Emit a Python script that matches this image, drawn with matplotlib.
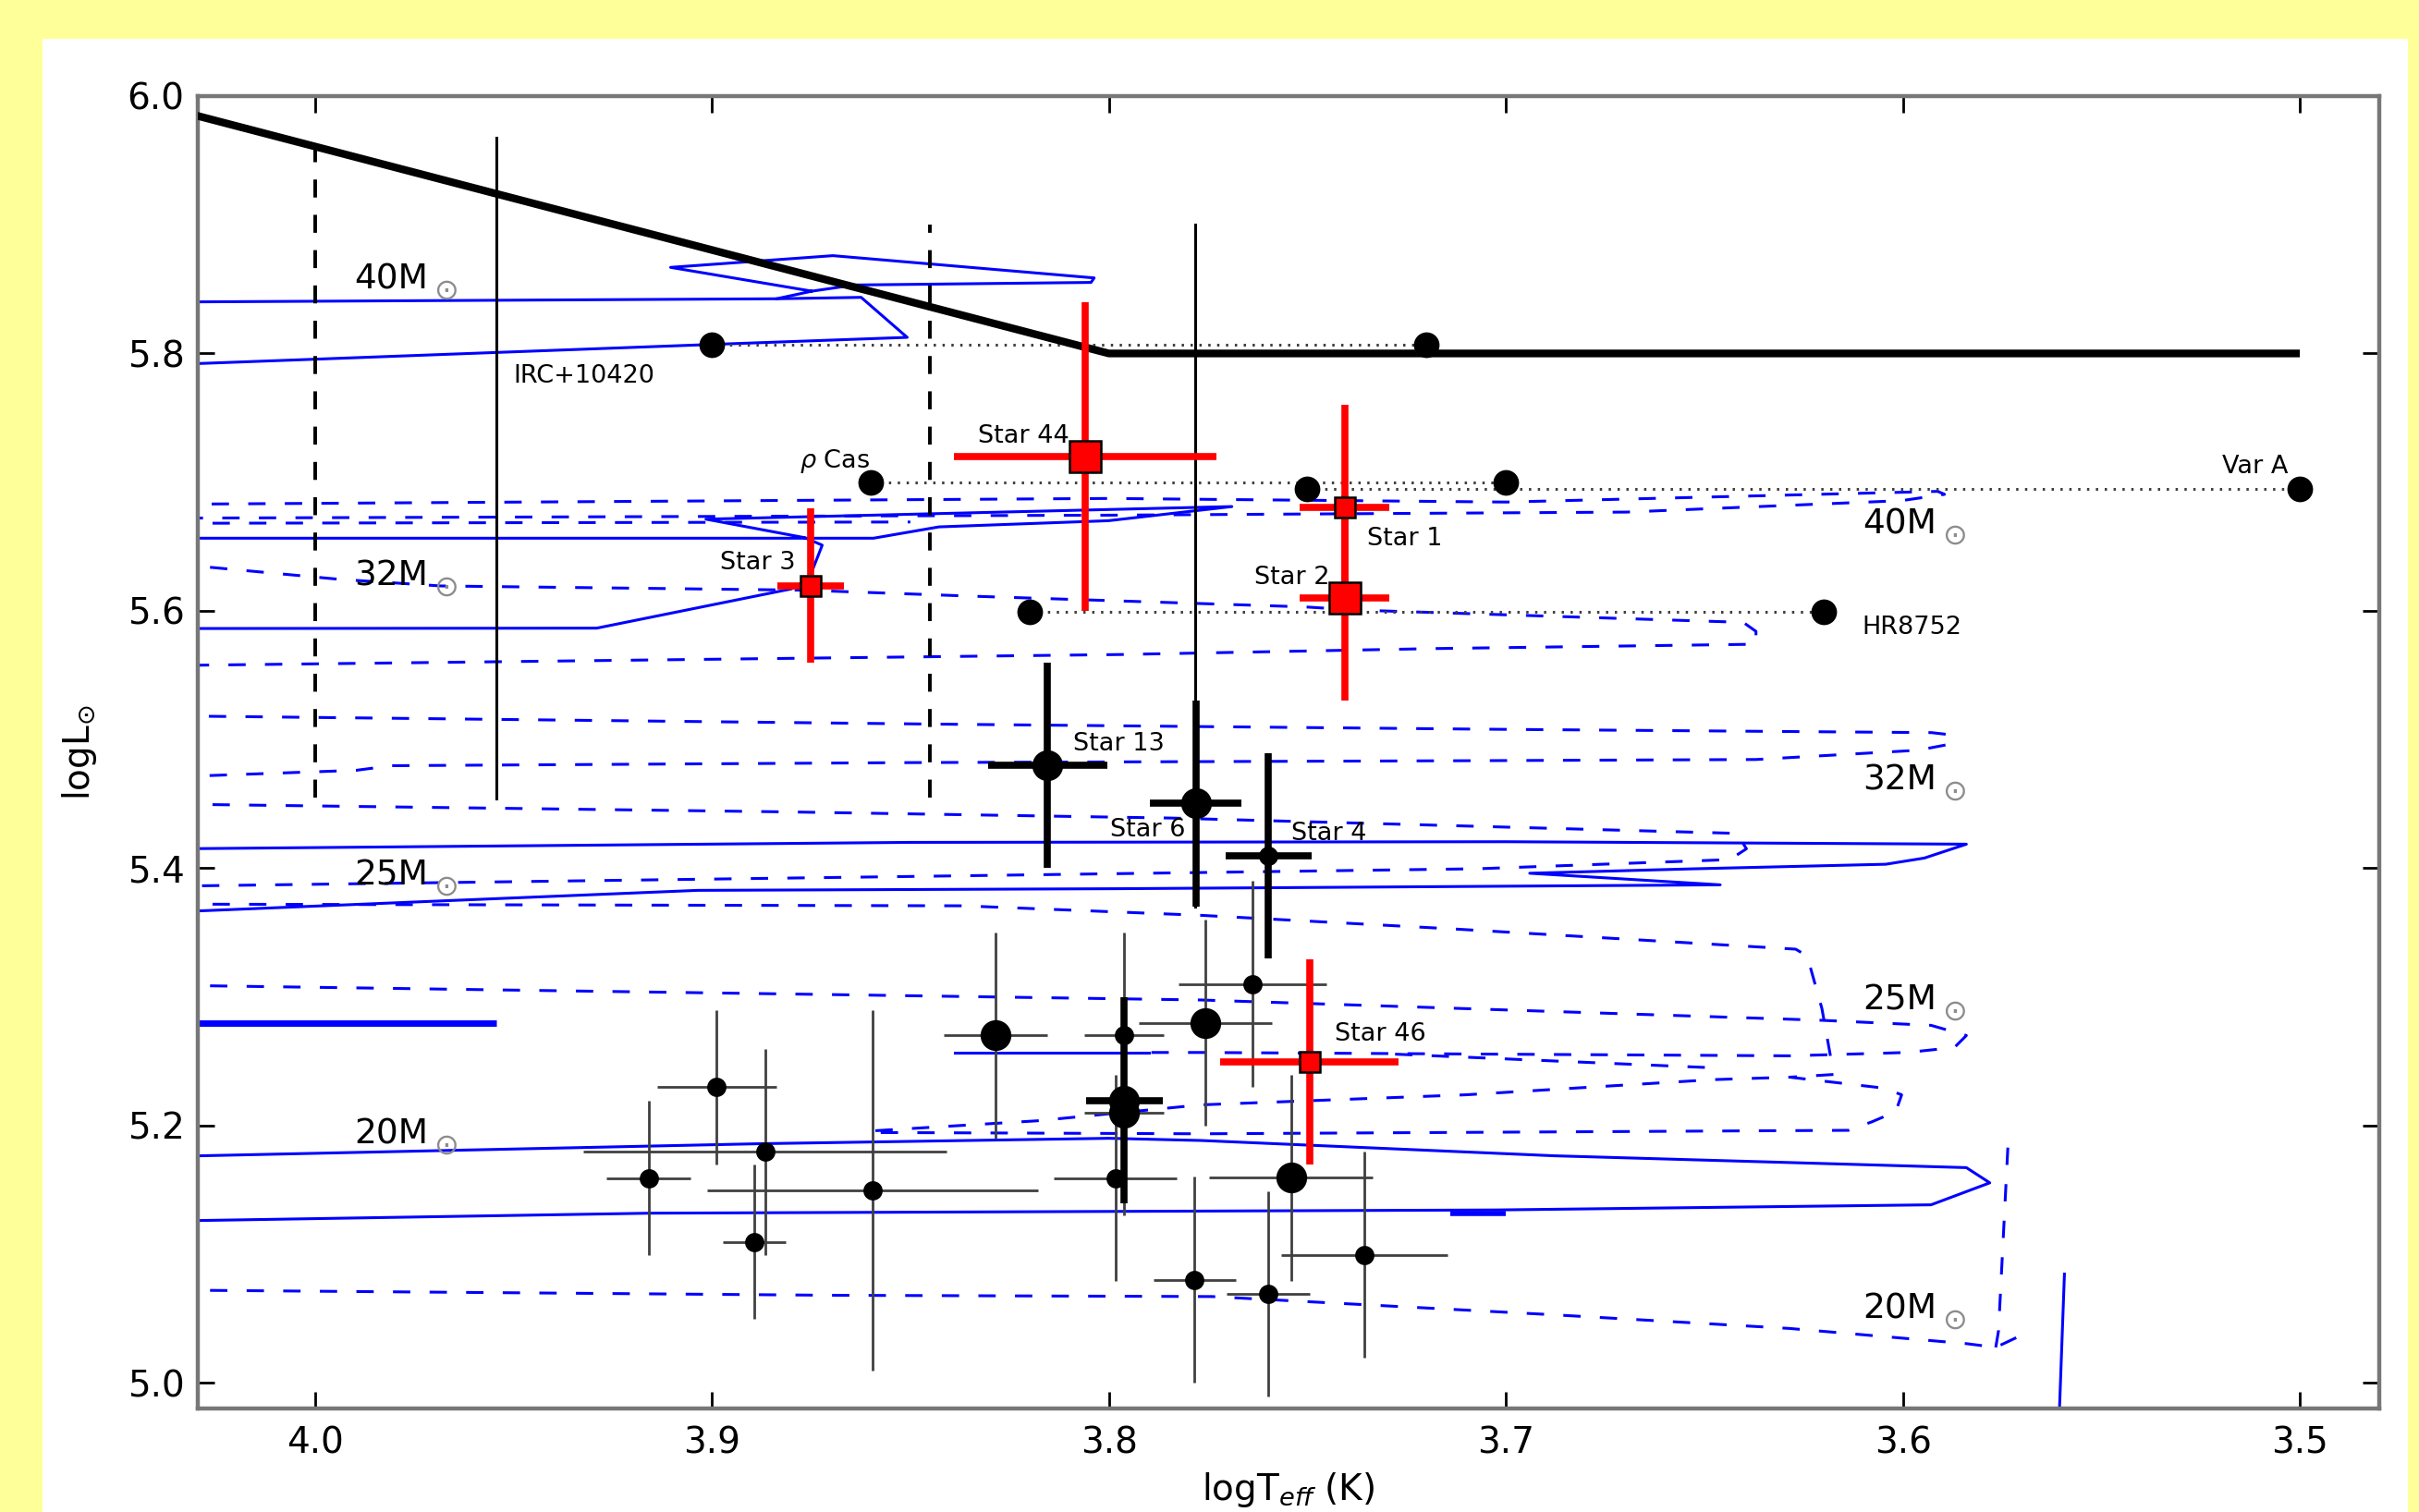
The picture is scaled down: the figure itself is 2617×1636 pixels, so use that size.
import matplotlib
matplotlib.use("Agg")
import matplotlib.pyplot as plt
from matplotlib.patches import Rectangle

plt.rcParams['font.family'] = ['DejaVu Sans']
plt.rcParams['mathtext.fontset'] = 'dejavusans'
plt.rcParams['lines.scale_dashes'] = False

# ---------------- data ----------------
# Humphreys-Davidson limit
hd_logT = [4.03, 3.80, 3.50]
hd_logL = [5.985, 5.80, 5.80]

# vertical reference lines
dashv_logT = [4.000, 3.845]
dashv_top = [5.966, 5.900]
dashv_bot = [5.455, 5.455]
solidv_logT = [3.9543, 3.7783]
solidv_top = [5.968, 5.900]
solidv_bot = [5.454, 5.370]

# solid evolutionary tracks
t40_T = [4.035, 3.90, 3.8508, 3.8624, 3.8837, 4.035]
t40_L = [5.7915, 5.807, 5.8125, 5.8436, 5.8425, 5.840]
t40loop_T = [3.8837, 3.8748, 3.9104, 3.8695, 3.8037, 3.8045, 3.8641, 3.8748]
t40loop_L = [5.8425, 5.8484, 5.8669, 5.876, 5.8587, 5.8552, 5.8532, 5.8484]
t32_T = [4.035, 3.929, 3.880, 3.8755, 3.8722, 3.8766, 3.9015, 3.769, 3.8001, 3.8428, 3.8593, 4.035]
t32_L = [5.5862, 5.5865, 5.617, 5.625, 5.651, 5.6568, 5.6712, 5.681, 5.670, 5.6652, 5.6564, 5.6564]
t25_T = [4.035, 3.9036, 3.797, 3.646, 3.694, 3.6533, 3.6043, 3.5946, 3.584, 3.70, 3.85, 4.035]
t25_L = [5.366, 5.3827, 5.384, 5.387, 5.396, 5.3994, 5.403, 5.4078, 5.4186, 5.4205, 5.420, 5.415]
t20_T = [4.035, 3.8877, 3.80, 3.7768, 3.6878, 3.584, 3.5781, 3.5929, 3.7027, 3.9154, 4.035]
t20_L = [5.176, 5.1858, 5.19, 5.1883, 5.1764, 5.1672, 5.1554, 5.1383, 5.1343, 5.1318, 5.1258]
thick_seg_T = [4.035, 3.9543]
thick_seg_L = [5.2798, 5.2798]
thick_seg2_T = [3.714, 3.700]
thick_seg2_L = [5.1317, 5.1317]
vert_T = [3.5593, 3.5606]
vert_L = [5.0845, 4.975]
solid_stub_T = [3.8387, 3.79]
solid_stub_L = [5.2567, 5.2567]

# dashed evolutionary tracks
d40a_T = [4.026, 3.80, 3.70, 3.5912, 3.5895, 3.6003, 3.6696, 3.80, 4.035]
d40a_L = [5.683, 5.6873, 5.6845, 5.6928, 5.6905, 5.6856, 5.6767, 5.6743, 5.672]
d40b_T = [4.035, 3.85]
d40b_L = [5.668, 5.669]
d32a_T = [4.0264, 3.994, 3.9683, 3.8766, 3.834, 3.7506, 3.7381, 3.6402, 3.637, 3.637, 3.7185, 3.797, 4.035]
d32a_L = [5.6338, 5.6245, 5.6193, 5.616, 5.6113, 5.603, 5.6006, 5.591, 5.584, 5.574, 5.5706, 5.566, 5.5575]
d32b_T = [4.0267, 3.8466, 3.707, 3.5928, 3.588, 3.588, 3.5962, 3.637, 3.707, 3.85, 3.9807, 3.9896, 4.035]
d32b_L = [5.518, 5.512, 5.508, 5.5053, 5.5036, 5.4964, 5.4916, 5.4844, 5.4835, 5.482, 5.4796, 5.476, 5.471]
d25f_T = [4.035, 3.8813, 3.7843, 3.6418, 3.6394, 3.6436, 3.707, 3.85, 4.035]
d25f_L = [5.4497, 5.4437, 5.4389, 5.427, 5.415, 5.4066, 5.3995, 5.3935, 5.386]
d25a_T = [4.035, 3.8368, 3.7768, 3.7131, 3.627, 3.6241, 3.6204, 3.6174, 3.6285]
d25a_L = [5.372, 5.3707, 5.3633, 5.3527, 5.337, 5.3317, 5.291, 5.2396, 5.2375]
d25b_T = [4.0264, 3.87, 3.7768, 3.6211, 3.5929, 3.584, 3.587, 3.5989, 3.6285, 3.7768, 3.79]
d25b_L = [5.3085, 5.3017, 5.2975, 5.2818, 5.2778, 5.2699, 5.2606, 5.2567, 5.2541, 5.2567, 5.2567]
d25c_T = [3.7279, 3.6493, 3.6495]
d25c_L = [5.2554, 5.245, 5.240]
d25d_T = [3.8588, 3.818, 3.7768, 3.7101, 3.6478, 3.6285, 3.6048, 3.6003, 3.6018, 3.6078, 3.6137, 3.7768, 3.8588]
d25d_L = [5.1959, 5.2036, 5.216, 5.2238, 5.2356, 5.2375, 5.229, 5.2238, 5.2107, 5.2028, 5.1962, 5.1935, 5.1945]
d20_T = [4.0264, 3.87, 3.774, 3.6878, 3.6285, 3.584, 3.5766, 3.5692]
d20_L = [5.0718, 5.068, 5.067, 5.0528, 5.0422, 5.0304, 5.0275, 5.0383]
d20v_T = [3.5766, 3.5759, 3.5735]
d20v_L = [5.0275, 5.0404, 5.186]

# yellow hypergiants (connected epochs)
irc_T = [3.90, 3.72]
irc_L = [5.807, 5.807]
rhocas_T = [3.86, 3.70]
rhocas_L = [5.700, 5.700]
vara_T = [3.75, 3.50]
vara_L = [5.695, 5.695]
hr_T = [3.82, 3.62]
hr_L = [5.599, 5.599]

# red stars (this work)
red_names = ['Star 44', 'Star 1', 'Star 2', 'Star 3', 'Star 46']
red_T = [3.806, 3.7406, 3.7406, 3.8751, 3.7495]
red_L = [5.720, 5.680, 5.610, 5.6195, 5.2493]
red_Terr = [0.033, 0.0113, 0.0113, 0.0084, 0.0225]
red_Lerr = [0.12, 0.08, 0.08, 0.06, 0.08]
red_big = [True, False, True, False, False]

# black stars, thick error bars
bk_names = ['Star 13', 'Star 6', 'Star 4', '']
bk_T = [3.8154, 3.7781, 3.7598, 3.7961]
bk_L = [5.480, 5.4502, 5.4095, 5.2194]
bk_Terr = [0.015, 0.0115, 0.0108, 0.0097]
bk_Lerr = [0.08, 0.08, 0.08, 0.08]
bk_big = [True, True, False, True]

# other supergiants, thin error bars
gs_T = [3.9159, 3.8988, 3.8866, 3.8893, 3.8595, 3.8285, 3.7961, 3.7961, 3.7983, 3.7757, 3.7639, 3.7541, 3.7356, 3.7598, 3.7784]
gs_L = [5.159, 5.2298, 5.1794, 5.1095, 5.1494, 5.2699, 5.2702, 5.2098, 5.159, 5.2797, 5.3099, 5.1593, 5.0994, 5.0691, 5.080]
gs_Terr = [0.0106, 0.015, 0.0457, 0.008, 0.0417, 0.013, 0.01, 0.01, 0.0155, 0.0168, 0.0186, 0.0206, 0.021, 0.0105, 0.0103]
gs_Lerr = [0.06, 0.06, 0.08, 0.06, 0.14, 0.08, 0.08, 0.08, 0.08, 0.08, 0.08, 0.08, 0.08, 0.08, 0.08]
gs_big = [False, False, False, False, False, True, False, True, False, True, False, True, False, False, False]

# labels
mass_labels = ['40', '32', '25', '20']
mass_left_L = [5.850, 5.620, 5.387, 5.186]
mass_right_L = [5.660, 5.4612, 5.290, 5.050]

xticks = [4.0, 3.9, 3.8, 3.7, 3.6, 3.5]
yticks = [5.0, 5.2, 5.4, 5.6, 5.8, 6.0]

# ---------------- figure ----------------
W, H = 2617, 1636
fig = plt.figure(figsize=(W / 100, H / 100), dpi=100, facecolor='#ffff99')
fig.patches.append(Rectangle((46 / W, 0), (2605 - 46) / W, 1 - 41.5 / H,
                             transform=fig.transFigure, facecolor='white',
                             edgecolor='none', zorder=-10))
ax = fig.add_axes([213.5 / W, (H - 1524) / H, (2574 - 213.5) / W, (1524 - 104) / H])
ax.set_zorder(1)

BLUE = '#0000ff'
TRK_LW = 2.2
DASH = (0, (13.5, 15))

for T, L in [(t40_T, t40_L), (t40loop_T, t40loop_L), (t32_T, t32_L),
             (t25_T, t25_L), (t20_T, t20_L), (vert_T, vert_L), (solid_stub_T, solid_stub_L)]:
    ax.plot(T, L, color=BLUE, lw=TRK_LW, zorder=2)
ax.plot(thick_seg_T, thick_seg_L, color=BLUE, lw=5, zorder=2, solid_capstyle='butt')
ax.plot(thick_seg2_T, thick_seg2_L, color=BLUE, lw=4, zorder=2, solid_capstyle='butt')

for T, L in [(d40a_T, d40a_L), (d40b_T, d40b_L), (d32a_T, d32a_L), (d32b_T, d32b_L),
             (d25f_T, d25f_L), (d25a_T, d25a_L), (d25b_T, d25b_L), (d25c_T, d25c_L),
             (d25d_T, d25d_L), (d20_T, d20_L), (d20v_T, d20v_L)]:
    ax.plot(T, L, color=BLUE, lw=TRK_LW, ls=DASH, zorder=2)

# reference lines
for x, t, b in zip(dashv_logT, dashv_top, dashv_bot):
    ax.plot([x, x], [b, t], color='k', lw=2.8, ls=(0, (14, 13.5)), zorder=3)
for x, t, b in zip(solidv_logT, solidv_top, solidv_bot):
    ax.plot([x, x], [b, t], color='k', lw=2.2, zorder=3)

ax.plot(hd_logT, hd_logL, color='k', lw=6, zorder=4, solid_capstyle='butt')

# yellow hypergiants
for T, L in [(irc_T, irc_L), (rhocas_T, rhocas_L), (vara_T, vara_L), (hr_T, hr_L)]:
    ax.plot(T, L, color='0.25', lw=2.2, ls=(0, (1.8, 5.1)), zorder=3)
    ax.plot(T, L, 'o', color='k', ms=20, mew=0, zorder=5)

# thin black points
for T, L, xe, ye, big in zip(gs_T, gs_L, gs_Terr, gs_Lerr, gs_big):
    ax.errorbar(T, L, xerr=xe, yerr=ye, fmt='o', color='k', ms=24 if big else 15,
                mew=0, ecolor='0.25', elinewidth=2.0, capsize=0, zorder=5)

# thick black points
for T, L, xe, ye, big in zip(bk_T, bk_L, bk_Terr, bk_Lerr, bk_big):
    ax.errorbar(T, L, xerr=xe, yerr=ye, fmt='o', color='k', ms=24 if big else 15,
                mew=0, ecolor='k', elinewidth=5.5, capsize=0, zorder=6)

# red stars
for T, L, xe, ye, big in zip(red_T, red_L, red_Terr, red_Lerr, red_big):
    ax.errorbar(T, L, xerr=xe, yerr=ye, fmt='s', mfc='red', mec='k', mew=1.8,
                ms=24 if big else 16, ecolor='red', elinewidth=5.5, capsize=0, zorder=7)

# text labels
FS_SMALL = 19.5
ax.text(3.950, 5.782, 'IRC+10420', fontsize=FS_SMALL, ha='left', va='center', zorder=8)
ax.text(3.878, 5.7112, r'$\rho$ Cas', fontsize=FS_SMALL, ha='left', va='baseline', zorder=8)
ax.text(3.5196, 5.712, 'Var A', fontsize=FS_SMALL, ha='left', va='center', zorder=8)
ax.text(3.6103, 5.587, 'HR8752', fontsize=FS_SMALL, ha='left', va='center', zorder=8)
name_pos = {'Star 44': (3.833, 5.736), 'Star 1': (3.735, 5.656), 'Star 2': (3.7634, 5.626),
            'Star 3': (3.898, 5.637), 'Star 46': (3.7431, 5.2706), 'Star 13': (3.8091, 5.4964),
            'Star 6': (3.7996, 5.4294), 'Star 4': (3.7541, 5.427)}
for nm in red_names + bk_names:
    if nm:
        x, y = name_pos[nm]
        ax.text(x, y, nm, fontsize=FS_SMALL, ha='left', va='center', zorder=8)

for m, yl, yr in zip(mass_labels, mass_left_L, mass_right_L):
    for xx, yy in [(3.990, yl), (3.610, yr)]:
        ax.text(xx, yy, m + 'M', fontsize=27, ha='left', va='baseline', zorder=8)
        ax.annotate(r'$\odot$', xy=(xx, yy), xytext=(71, -2), textcoords='offset points',
                    fontsize=23, color='0.55', ha='center', va='center', zorder=8)

# axes styling
ax.set_xlim(4.0296, 3.480)
ax.set_ylim(4.980, 6.0)
ax.set_xticks(xticks)
ax.set_yticks(yticks)
ax.set_xticklabels(['%.1f' % v for v in xticks])
ax.set_yticklabels(['%.1f' % v for v in yticks])
ax.tick_params(direction='in', length=13, width=2, top=True, right=True,
               labelsize=28, pad=10, color='k')
ax.tick_params(axis='x', pad=13)
for sp in ax.spines.values():
    sp.set_color('#777777')
    sp.set_linewidth(3.2)

ax.set_ylabel(r'logL$_{\odot}$', fontsize=28)
ax.yaxis.set_label_coords(-0.045, 0.5)
ax.set_xlabel(r'logT$_{eff}$ (K)', fontsize=28)
ax.xaxis.set_label_coords(0.5, -0.047)

fig.savefig('out.png', dpi=100, facecolor=fig.get_facecolor())
